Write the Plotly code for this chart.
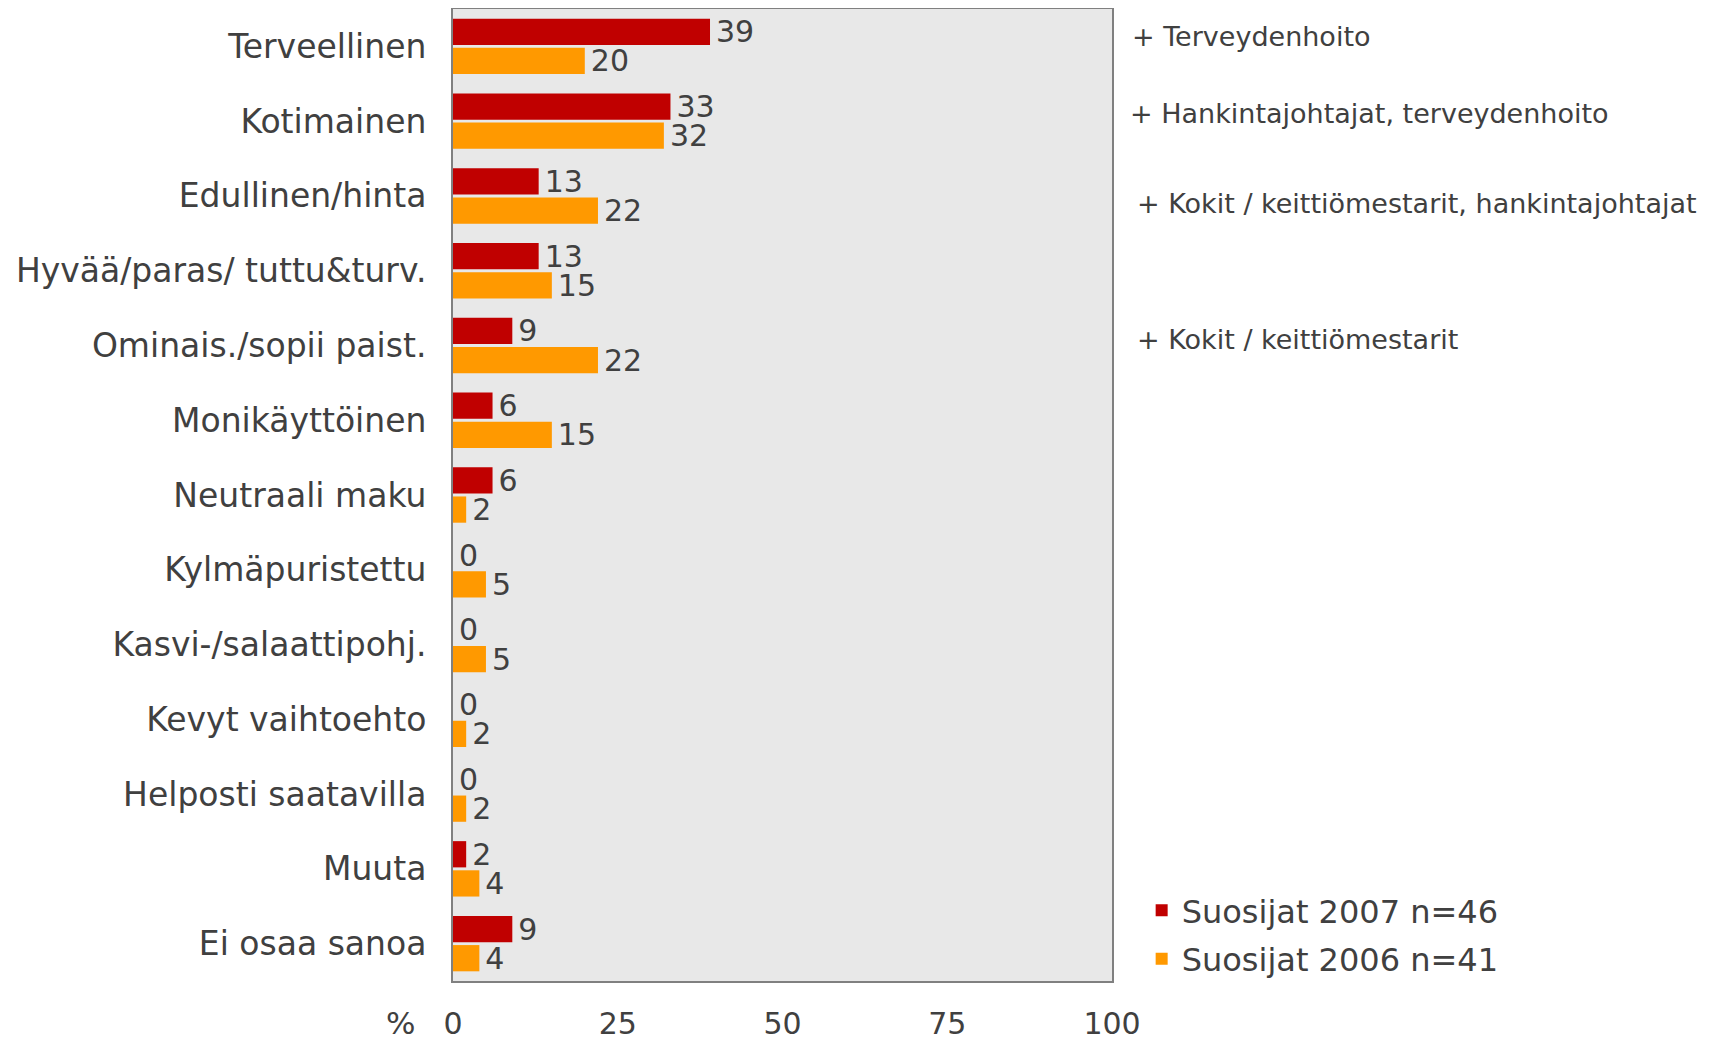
import plotly.graph_objects as go

# Data
categories = [
    "Terveellinen",
    "Kotimainen",
    "Edullinen/hinta",
    "Hyvää/paras/ tuttu&turv.",
    "Ominais./sopii paist.",
    "Monikäyttöinen",
    "Neutraali maku",
    "Kylmäpuristettu",
    "Kasvi-/salaattipohj.",
    "Kevyt vaihtoehto",
    "Helposti saatavilla",
    "Muuta",
    "Ei osaa sanoa",
]
values_2007 = [39, 33, 13, 13, 9, 6, 6, 0, 0, 0, 0, 2, 9]
values_2006 = [20, 32, 22, 15, 22, 15, 2, 5, 5, 2, 2, 4, 4]
series_names = ["Suosijat 2007 n=46", "Suosijat 2006 n=41"]
notes = {
    "Terveellinen": "+ Terveydenhoito",
    "Kotimainen": "+ Hankintajohtajat, terveydenhoito",
    "Edullinen/hinta": "+ Kokit / keittiömestarit, hankintajohtajat",
    "Ominais./sopii paist.": "+ Kokit / keittiömestarit",
}
x_ticks = [0, 25, 50, 75, 100]

RED = "#C00000"
ORANGE = "#FF9900"
TXT = "#404040"
FONT = "DejaVu Sans"

fig = go.Figure()
for name, vals, color in [
    (series_names[0], values_2007, RED),
    (series_names[1], values_2006, ORANGE),
]:
    fig.add_trace(
        go.Bar(
            name=name,
            legendgroup=name,
            y=categories,
            x=vals,
            orientation="h",
            marker=dict(color=color, line=dict(width=0)),
            texttemplate="\u200a%{x}",
            textposition="outside",
            constraintext="none",
            cliponaxis=False,
            textfont=dict(family=FONT, size=30, color=TXT),
        )
    )

# side notes
note_shift = {
    "Terveellinen": 10,
    "Kotimainen": 8,
    "Edullinen/hinta": -8,
    "Ominais./sopii paist.": 6,
}
note_x = {
    "Terveellinen": 1.027,
    "Kotimainen": 1.024,
    "Edullinen/hinta": 1.035,
    "Ominais./sopii paist.": 1.035,
}
for cat, txt in notes.items():
    fig.add_annotation(
        x=note_x[cat],
        xref="paper",
        y=cat,
        yref="y",
        yshift=note_shift[cat],
        text=txt,
        showarrow=False,
        xanchor="left",
        font=dict(family=FONT, size=27, color=TXT),
    )

fig.add_annotation(
    x=-0.079,
    xref="paper",
    y=-0.043,
    yref="paper",
    text="%",
    showarrow=False,
    xanchor="center",
    yanchor="middle",
    font=dict(family=FONT, size=31, color=TXT),
)

# page body adds 8px; plot area spans 659 x 972 px
fig.update_layout(
    width=1707,
    height=1033,
    margin=dict(l=445, r=603, t=1, b=60, autoexpand=False),
    paper_bgcolor="white",
    plot_bgcolor="#e8e8e8",
    barmode="group",
    bargap=0.22,
    bargroupgap=0.1,
    font=dict(family=FONT, color=TXT),
    legend=dict(
        x=1.045,
        y=0.101,
        xanchor="left",
        yanchor="top",
        font=dict(family=FONT, size=32, color=TXT),
        bgcolor="rgba(0,0,0,0)",
        tracegroupgap=4,
    ),
)
fig.update_xaxes(
    range=[0, 100],
    tickvals=x_ticks,
    showgrid=False,
    zeroline=False,
    showline=True,
    linecolor="#808080",
    linewidth=2,
    mirror=True,
    automargin=False,
    tickfont=dict(family=FONT, size=30, color=TXT),
    ticklabelstandoff=15,
    fixedrange=True,
)
fig.update_yaxes(
    autorange="reversed",
    showgrid=False,
    showline=True,
    linecolor="#808080",
    linewidth=2,
    mirror=True,
    automargin=False,
    ticks="",
    ticklabelstandoff=18,
    tickfont=dict(family=FONT, size=33, color=TXT),
)

fig.write_html("out.html")
